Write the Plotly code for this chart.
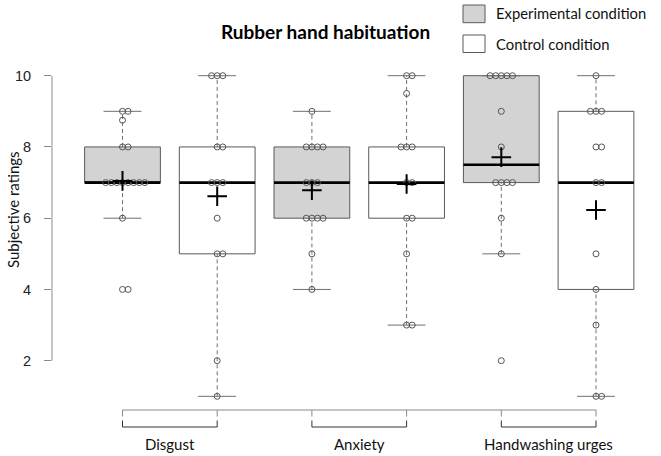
import plotly.graph_objects as go
import numpy as np

# ---------------- data ----------------
categories = ["Disgust", "Anxiety", "Handwashing urges"]
conditions = ["Experimental condition", "Control condition"]

disgust_exp = [9, 9, 8.75, 8, 8, 7, 7, 7, 7, 7, 7, 7, 7, 6, 4, 4]
disgust_ctrl = [10, 10, 10, 8, 8, 7, 7, 7, 6, 5, 5, 2, 1]
anxiety_exp = [9, 8, 8, 8, 8, 7, 7, 7, 6, 6, 6, 6, 5, 4]
anxiety_ctrl = [10, 10, 9.5, 8, 8, 8, 7, 7, 6, 6, 5, 3, 3]
handwash_exp = [10, 10, 10, 10, 10, 9, 8, 7, 7, 7, 7, 6, 5, 2]
handwash_ctrl = [10, 9, 9, 9, 8, 8, 7, 7, 5, 4, 3, 1, 1]

y_ticks = [2, 4, 6, 8, 10]

groups = [
    (disgust_exp, 0), (disgust_ctrl, 1),
    (anxiety_exp, 0), (anxiety_ctrl, 1),
    (handwash_exp, 0), (handwash_ctrl, 1),
]

# ---------------- style ----------------
W, H = 661, 456
ML = 52
PX_PER_X = 94.7
PX_PER_Y = 35.625
fills = ["#d3d3d3", "#ffffff"]
border = "#5a5a5a"
axis_col = "#8a8a8a"
pt_col = "#555555"
calibri = "Lato, 'Open Sans', sans-serif"
arial = "'Liberation Sans', Arial, sans-serif"


def fivenum(v):
    x = np.sort(np.asarray(v, dtype=float))
    n = len(x)
    n4 = np.floor((n + 3) / 2) / 2
    d = np.array([1, n4, (n + 1) / 2, n + 1 - n4, n]) - 1
    return 0.5 * (x[np.floor(d).astype(int)] + x[np.ceil(d).astype(int)])


def stats(v):
    f = fivenum(v)
    q1, med, q3 = f[1], f[2], f[3]
    iqr = q3 - q1
    arr = np.asarray(v, dtype=float)
    lo = arr[arr >= q1 - 1.5 * iqr].min()
    hi = arr[arr <= q3 + 1.5 * iqr].max()
    return q1, med, q3, lo, hi


def swarm_offsets(v, step):
    seen = {}
    offs = []
    for val in v:
        i = seen.get(val, 0)
        seen[val] = i + 1
        k = (i + 1) // 2
        sign = 1 if i % 2 == 1 else -1
        offs.append(0 if i == 0 else sign * k * step)
    return offs


fig = go.Figure()

positions = list(range(1, len(groups) + 1))
box_half = 0.4
step = 5.6 / PX_PER_X

# boxes, one trace per condition
for c in (0, 1):
    xs, q1s, meds, q3s = [], [], [], []
    for pos, (vals, cond) in zip(positions, groups):
        if cond != c:
            continue
        q1, med, q3, lo, hi = stats(vals)
        xs.append(pos); q1s.append(q1); meds.append(med); q3s.append(q3)
    fig.add_trace(go.Box(
        x=xs, q1=q1s, median=meds, q3=q3s, lowerfence=q1s, upperfence=q3s,
        width=2 * box_half, whiskerwidth=0, fillcolor=fills[c],
        line=dict(color=border, width=1), boxpoints=False,
        hoverinfo="skip", showlegend=False, name=conditions[c]))

for pos, (vals, cond) in zip(positions, groups):
    q1, med, q3, lo, hi = stats(vals)
    # dashed whiskers
    for a, b in ((q3, hi), (lo, q1)):
        fig.add_trace(go.Scatter(x=[pos, pos], y=[a, b], mode="lines",
                                 line=dict(color="#707070", width=1, dash="4px,3px"),
                                 hoverinfo="skip", showlegend=False))
    # staples
    for yv_ in (lo, hi):
        fig.add_trace(go.Scatter(x=[pos - box_half / 2, pos + box_half / 2], y=[yv_, yv_],
                                 mode="lines", line=dict(color="#707070", width=1),
                                 hoverinfo="skip", showlegend=False))
    # median
    fig.add_trace(go.Scatter(x=[pos - box_half, pos + box_half], y=[med, med], mode="lines",
                             line=dict(color="black", width=2.6),
                             hoverinfo="skip", showlegend=False))
    # points
    offs = swarm_offsets(vals, step)
    fig.add_trace(go.Scatter(x=[pos + o for o in offs], y=vals, mode="markers",
                             marker=dict(symbol="circle-open", size=6,
                                         line=dict(color=pt_col, width=1), color=pt_col),
                             hoverinfo="skip", showlegend=False))
    # mean
    fig.add_trace(go.Scatter(x=[pos], y=[float(np.mean(vals))], mode="markers",
                             marker=dict(symbol="cross-thin", size=14,
                                         line=dict(color="black", width=2)),
                             hoverinfo="skip", showlegend=False))

# ---------------- axes / decorations ----------------
X1_PX = 122.5
Y10_PX = 75.7
Y2_PX = 360.7

x0 = 1 - (X1_PX - ML) / PX_PER_X
x1 = x0 + (W - ML) / PX_PER_X
y_top = 10 + Y10_PX / PX_PER_Y
y_bot = 2 - (H - Y2_PX) / PX_PER_Y


def yv(px):
    return 2 - (px - Y2_PX) / PX_PER_Y


def paper_x(px):
    return (px - ML) / (W - ML)


def paper_y(px):
    return 1 - px / H


shapes = []
# y axis line (2..10)
shapes.append(dict(type="line", xref="paper", yref="y", x0=0, x1=0, y0=y_ticks[0], y1=y_ticks[-1],
                   line=dict(color=axis_col, width=1)))
# bottom axis line and ticks
shapes.append(dict(type="line", xref="x", yref="y", x0=positions[0], x1=positions[-1],
                   y0=yv(410), y1=yv(410), line=dict(color=axis_col, width=1)))
for p in positions:
    shapes.append(dict(type="line", xref="x", yref="y", x0=p, x1=p, y0=yv(410), y1=yv(416.5),
                       line=dict(color=axis_col, width=1)))
# brackets
annotations = []
for i, cat in enumerate(categories):
    a, b = positions[2 * i], positions[2 * i + 1]
    shapes.append(dict(type="path", xref="x", yref="y",
                       path=f"M{a},{yv(420.5)} L{a},{yv(427)} L{b},{yv(427)} L{b},{yv(420.5)}",
                       line=dict(color="#333333", width=1)))
    annotations.append(dict(x=(a + b) / 2, y=yv(444), xref="x", yref="y", text=cat,
                            showarrow=False, font=dict(family=calibri, size=15, color="#111111")))

# legend
for c, (top, bot, ty) in enumerate(((5, 22.7, 13.5), (35, 52.5, 43.5))):
    shapes.append(dict(type="rect", xref="paper", yref="paper",
                       x0=paper_x(463), x1=paper_x(485), y0=paper_y(bot), y1=paper_y(top),
                       fillcolor=fills[c], line=dict(color=border, width=1)))
    annotations.append(dict(x=paper_x(494), y=paper_y(ty), xref="paper", yref="paper",
                            text=conditions[c], showarrow=False, xanchor="left", yanchor="middle",
                            font=dict(family=calibri, size=14.8, color="#111111")))

# title
annotations.append(dict(x=paper_x(325), y=paper_y(31.5), xref="paper", yref="paper",
                        text="<b>Rubber hand habituation</b>", showarrow=False,
                        xanchor="center", yanchor="middle",
                        font=dict(family=calibri, size=19, color="black")))
# y title
annotations.append(dict(x=paper_x(13), y=yv(210), xref="paper", yref="y",
                        text="Subjective ratings", showarrow=False, textangle=-90,
                        xanchor="center", yanchor="middle",
                        font=dict(family=calibri, size=15, color="#111111")))

fig.update_layout(
    width=W, height=H,
    margin=dict(l=ML, r=0, t=0, b=0),
    paper_bgcolor="white", plot_bgcolor="white",
    shapes=shapes, annotations=annotations, showlegend=False,
    xaxis=dict(range=[x0, x1], visible=False),
    yaxis=dict(range=[y_bot, y_top], tickvals=y_ticks, ticks="outside", ticklen=7,
               tickcolor=axis_col, showgrid=False, zeroline=False, showline=False,
               ticklabelstandoff=10,
               tickfont=dict(family=arial, size=14.5, color="#222222")),
)

fig.write_html("out.html", config={"displayModeBar": False},
               post_script="document.body.style.margin='0px';")
